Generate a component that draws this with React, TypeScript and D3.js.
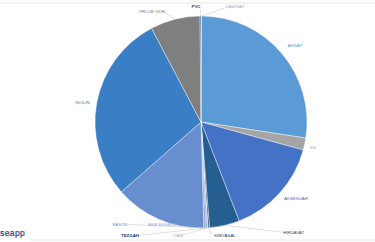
import React from "react";
import * as d3 from "d3";

const categories = ["LAMINAT", "AHSAP", "KS", "AKSESUAR", "HIRDAVAT", "KIMYASAL", "CAM", "TEZGAH", "FASON", "ARA SEKANS", "ISOLIN", "PROJE GDR", "PVC"];
const values = [0.3, 98.4, 6.6, 53.6, 16.5, 0.8, 0.6, 0.5, 1.2, 50.2, 103.5, 27.3, 0.5];

const sliceColors = ["#9DC3E6", "#5B9BD5", "#A5A5A5", "#4472C4", "#255E91", "#264478", "#BFBFBF", "#1F3864", "#8FAADC", "#698ED0", "#3A7EC6", "#7F7F7F", "#264478"];
const labelColors = ["#8FB4E0", "#5B9BD5", "#999999", "#4472C4", "#2E4F8A", "#333A5A", "#AAAAAA", "#1F3864", "#698ED0", "#8FAADC", "#2E75B6", "#777777", "#2F3F7F"];
const boldLabels = new Set(["PVC", "TEZGAH"]);

// label layout: text centre and leader-line start where one is drawn
const labelLayout: Record<string, { x: number; y: number; leader?: [number, number] }> = {
  LAMINAT: { x: 235, y: 6, leader: [225, 8] },
  PVC: { x: 196, y: 6, leader: [200.5, 9] },
  "PROJE GDR": { x: 152, y: 11.5, leader: [164, 12] },
  AHSAP: { x: 295, y: 45.5 },
  KS: { x: 313, y: 147 },
  AKSESUAR: { x: 296, y: 198 },
  HIRDAVAT: { x: 293.5, y: 232.5, leader: [281, 232] },
  KIMYASAL: { x: 225, y: 235.5, leader: [212, 235.5] },
  CAM: { x: 178, y: 235.5, leader: [183, 235] },
  TEZGAH: { x: 130, y: 235.5, leader: [138, 235.5] },
  FASON: { x: 120, y: 224.5, leader: [128, 224.5] },
  "ARA SEKANS": { x: 162, y: 224.5 },
  ISOLIN: { x: 82.5, y: 102.5 },
};

export default function App() {
  const W = 375, H = 242;
  const cx = 201, cy = 122, R = 106;
  const data = categories.map((c, i) => ({ c, v: values[i], i }));
  const pie = d3.pie<any>().value((d) => d.v).sort(null);
  const arcs = pie(data);
  const arc = d3.arc<any>().innerRadius(0).outerRadius(R);

  return (
    <svg width={W} height={H} style={{ position: "absolute", left: 0, top: 0, background: "#fff" }}>
      <line x1={0} x2={W} y1={3} y2={3} stroke="#E3E3E3" strokeWidth={0.8} />
      <line x1={30} x2={W} y1={240} y2={240} stroke="#E3E3E3" strokeWidth={0.8} />
      <g transform={`translate(${cx},${cy})`}>
        {arcs.map((a) => (
          <path key={a.data.c} d={arc(a) as string} fill={sliceColors[a.data.i]} stroke="#ffffff" strokeWidth={0.4} />
        ))}
      </g>
      {arcs.map((a) => {
        const lay = labelLayout[a.data.c];
        if (!lay || !lay.leader) return null;
        const mid = (a.startAngle + a.endAngle) / 2;
        const px = cx + Math.sin(mid) * R;
        const py = cy - Math.cos(mid) * R;
        return (
          <line key={"l" + a.data.c} x1={lay.leader[0]} y1={lay.leader[1]} x2={px} y2={py} stroke="#BFBFBF" strokeWidth={0.5} />
        );
      })}
      {arcs.map((a) => {
        const lay = labelLayout[a.data.c];
        return (
          <text
            key={"t" + a.data.c}
            x={lay.x}
            y={lay.y}
            textAnchor="middle"
            dominantBaseline="central"
            fontFamily="'Liberation Sans', Arial, sans-serif"
            fontSize={4.4}
            fontWeight={boldLabels.has(a.data.c) ? 700 : 400}
            fill={labelColors[a.data.i]}
          >
            {a.data.c}
          </text>
        );
      })}
      <text x={0} y={236} fontFamily="'Liberation Sans', Arial, sans-serif" fontSize={8.5} letterSpacing={0.4} fill="#2E3C88" fontWeight={400} stroke="#2E3C88" strokeWidth={0.2}>
        seapp
      </text>
    </svg>
  );
}
